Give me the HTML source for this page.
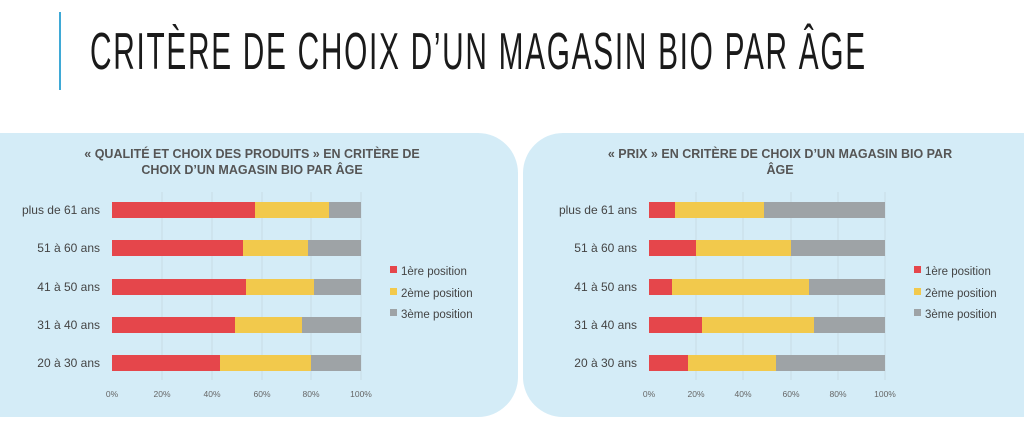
<!DOCTYPE html>
<html><head><meta charset="utf-8"><style>
body{margin:0;width:1024px;height:439px;background:#fff;overflow:hidden;position:relative;font-family:"Liberation Sans",sans-serif}
</style></head><body>
<div style="position:absolute;left:59px;top:12px;width:2px;height:78px;background:#3fa9d6"></div>
<div style="position:absolute;left:90px;top:24px;font-size:52px;line-height:56px;color:#1a1a1a;letter-spacing:3px;white-space:nowrap;transform:scaleX(0.573);transform-origin:0 0">CRITÈRE DE CHOIX D’UN MAGASIN BIO PAR ÂGE</div>
<div style="position:absolute;left:-40px;top:133px;width:558px;height:284px;background:#d4ecf7;border-radius:40px"></div>
<div style="position:absolute;left:523px;top:133px;width:540px;height:284px;background:#d4ecf7;border-radius:40px"></div>
<svg width="1024" height="439" style="position:absolute;left:0;top:0" font-family="Liberation Sans, sans-serif">
<g font-weight="bold" font-size="12.5" fill="#555" text-anchor="middle">
<text x="252" y="158">« QUALITÉ ET CHOIX DES PRODUITS » EN CRITÈRE DE</text>
<text x="252" y="174">CHOIX D’UN MAGASIN BIO PAR ÂGE</text>
<text x="780" y="158">« PRIX » EN CRITÈRE DE CHOIX D’UN MAGASIN BIO PAR</text>
<text x="780" y="174">ÂGE</text>
</g>
<g stroke="#c8dce4" stroke-width="1">
<line x1="162" y1="192" x2="162" y2="380"/><line x1="212" y1="192" x2="212" y2="380"/><line x1="262" y1="192" x2="262" y2="380"/><line x1="311" y1="192" x2="311" y2="380"/><line x1="361" y1="192" x2="361" y2="380"/>
<line x1="696" y1="192" x2="696" y2="380"/><line x1="743" y1="192" x2="743" y2="380"/><line x1="791" y1="192" x2="791" y2="380"/><line x1="838" y1="192" x2="838" y2="380"/><line x1="885" y1="192" x2="885" y2="380"/>
</g>
<g font-size="12" fill="#444" text-anchor="end">
<text x="100" y="214">plus de 61 ans</text><text x="100" y="252">51 à 60 ans</text><text x="100" y="291">41 à 50 ans</text><text x="100" y="329">31 à 40 ans</text><text x="100" y="367">20 à 30 ans</text>
<text x="637" y="214">plus de 61 ans</text><text x="637" y="252">51 à 60 ans</text><text x="637" y="291">41 à 50 ans</text><text x="637" y="329">31 à 40 ans</text><text x="637" y="367">20 à 30 ans</text>
</g>
<g>
<rect x="112" y="202" width="143" height="16" fill="#e5464b"/><rect x="255" y="202" width="74" height="16" fill="#f2c94c"/><rect x="329" y="202" width="32" height="16" fill="#9ea3a6"/>
<rect x="112" y="240" width="131" height="16" fill="#e5464b"/><rect x="243" y="240" width="65" height="16" fill="#f2c94c"/><rect x="308" y="240" width="53" height="16" fill="#9ea3a6"/>
<rect x="112" y="279" width="134" height="16" fill="#e5464b"/><rect x="246" y="279" width="68" height="16" fill="#f2c94c"/><rect x="314" y="279" width="47" height="16" fill="#9ea3a6"/>
<rect x="112" y="317" width="123" height="16" fill="#e5464b"/><rect x="235" y="317" width="67" height="16" fill="#f2c94c"/><rect x="302" y="317" width="59" height="16" fill="#9ea3a6"/>
<rect x="112" y="355" width="108" height="16" fill="#e5464b"/><rect x="220" y="355" width="91" height="16" fill="#f2c94c"/><rect x="311" y="355" width="50" height="16" fill="#9ea3a6"/>

<rect x="649" y="202" width="26" height="16" fill="#e5464b"/><rect x="675" y="202" width="89" height="16" fill="#f2c94c"/><rect x="764" y="202" width="121" height="16" fill="#9ea3a6"/>
<rect x="649" y="240" width="47" height="16" fill="#e5464b"/><rect x="696" y="240" width="95" height="16" fill="#f2c94c"/><rect x="791" y="240" width="94" height="16" fill="#9ea3a6"/>
<rect x="649" y="279" width="23" height="16" fill="#e5464b"/><rect x="672" y="279" width="137" height="16" fill="#f2c94c"/><rect x="809" y="279" width="76" height="16" fill="#9ea3a6"/>
<rect x="649" y="317" width="53" height="16" fill="#e5464b"/><rect x="702" y="317" width="112" height="16" fill="#f2c94c"/><rect x="814" y="317" width="71" height="16" fill="#9ea3a6"/>
<rect x="649" y="355" width="39" height="16" fill="#e5464b"/><rect x="688" y="355" width="88" height="16" fill="#f2c94c"/><rect x="776" y="355" width="109" height="16" fill="#9ea3a6"/>
</g>
<g font-size="8.5" fill="#666" text-anchor="middle">
<text x="112" y="397">0%</text><text x="162" y="397">20%</text><text x="212" y="397">40%</text><text x="262" y="397">60%</text><text x="311" y="397">80%</text><text x="361" y="397">100%</text>
<text x="649" y="397">0%</text><text x="696" y="397">20%</text><text x="743" y="397">40%</text><text x="791" y="397">60%</text><text x="838" y="397">80%</text><text x="885" y="397">100%</text>
</g>
<g font-size="11.5" fill="#444">
<rect x="390" y="266" width="7" height="7" fill="#e5464b"/><text x="401" y="275">1ère position</text>
<rect x="390" y="288" width="7" height="7" fill="#f2c94c"/><text x="401" y="297">2ème position</text>
<rect x="390" y="309" width="7" height="7" fill="#9ea3a6"/><text x="401" y="318">3ème position</text>
<rect x="914" y="266" width="7" height="7" fill="#e5464b"/><text x="925" y="275">1ère position</text>
<rect x="914" y="288" width="7" height="7" fill="#f2c94c"/><text x="925" y="297">2ème position</text>
<rect x="914" y="309" width="7" height="7" fill="#9ea3a6"/><text x="925" y="318">3ème position</text>
</g>
</svg>
</body></html>
